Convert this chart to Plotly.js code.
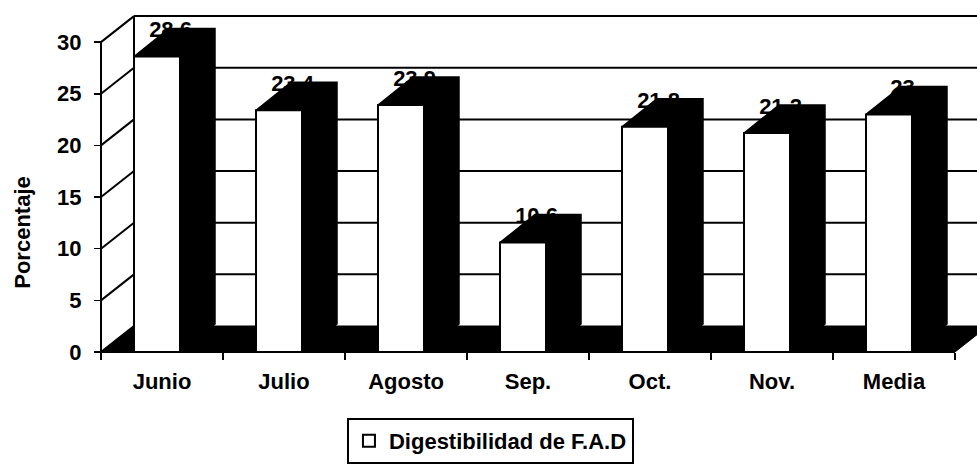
<!DOCTYPE html>
<html>
<head>
<meta charset="utf-8">
<script src="https://cdn.plot.ly/plotly-3.0.1.min.js"></script>
<style>html,body{margin:0;padding:0;background:#fff;}#chart{width:977px;height:465px;}</style>
</head>
<body>
<div id="chart"></div>
<script>
// ---- data ----
const categories = ['Junio', 'Julio', 'Agosto', 'Sep.', 'Oct.', 'Nov.', 'Media'];
const values = [28.6, 23.4, 23.9, 10.6, 21.8, 21.2, 23];
const yTickVals = [0, 5, 10, 15, 20, 25, 30];
const seriesName = 'Digestibilidad de F.A.D';
const yTitle = 'Porcentaje';

// ---- geometry / style ----
const W = 977, H = 465;
const PX = 122;      // px per category
const PY = 10.33;    // px per y unit
const X0 = 101;      // px of front left edge (category -0.5)
const Y0 = 352;      // px of y = 0 on the front plane
const WDX = 33 / PX, WDY = 26 / PY;   // wall depth offset
const BDX = 35 / PX, BDY = 28 / PY;   // bar depth offset
const BOFF = -28 / PX, BW = 46 / PX;  // front face offset / width
const YMAX = 30;
const n = categories.length;
const xLo = -0.5, xHi = n - 0.5;
const FONT = {family: 'Liberation Sans, Arial, sans-serif', size: 22, color: '#000', weight: 'bold'};

const idx = categories.map((_, i) => i);
const boundaries = [];
for (let i = 0; i <= n; i++) boundaries.push(i - 0.5);

// extrusion polygons (top + side faces) computed from data
const ex = [], ey = [];
values.forEach((v, i) => {
  const xl = i + BOFF, xr = i + BOFF + BW;
  ex.push(xl, xl + BDX, xr + BDX, xr + BDX, xr, xr, null);
  ey.push(v, v + BDY, v + BDY, BDY, 0, v, null);
});

const traces = [
  {
    type: 'bar', name: seriesName, x: idx, y: values,
    width: BW, offset: BOFF,
    marker: {color: '#fff', line: {color: '#000', width: 2}},
    hoverinfo: 'skip'
  },
  {
    type: 'scatter', mode: 'lines', x: ex, y: ey, fill: 'toself',
    fillcolor: '#000', line: {color: '#000', width: 1.5},
    showlegend: false, hoverinfo: 'skip'
  },
  {
    type: 'scatter', mode: 'text',
    x: idx.map(i => i + 0.07), y: values.map(v => v + 2.4),
    text: values.map(v => String(v)), textposition: 'middle center',
    textfont: FONT, showlegend: false, hoverinfo: 'skip', cliponaxis: false
  }
];

// walls, floor and front axis lines
const shapes = [];
const L = {color: '#000', width: 2};
// floor
shapes.push({type: 'path', layer: 'below', xref: 'x', yref: 'y',
  path: `M${xLo},0 L${xHi},0 L${xHi + WDX},${WDY} L${xLo + WDX},${WDY} Z`,
  fillcolor: '#000', line: {color: '#000', width: 1}});
// back wall gridlines + top
yTickVals.forEach(t => {
  if (t > 0) shapes.push({type: 'line', layer: 'below', xref: 'x', yref: 'y',
    x0: xLo + WDX, x1: xHi + 1, y0: t + WDY, y1: t + WDY, line: L});
  // left wall diagonals
  shapes.push({type: 'line', layer: 'below', xref: 'x', yref: 'y',
    x0: xLo, x1: xLo + WDX, y0: t, y1: t + WDY, line: L});
});
// back wall left edge
shapes.push({type: 'line', layer: 'below', xref: 'x', yref: 'y',
  x0: xLo + WDX, x1: xLo + WDX, y0: WDY, y1: YMAX + WDY, line: L});
// front axis lines
shapes.push({type: 'line', layer: 'above', xref: 'x', yref: 'y',
  x0: xLo, x1: xLo, y0: 0, y1: YMAX, line: L});
shapes.push({type: 'line', layer: 'above', xref: 'x', yref: 'y',
  x0: xLo, x1: xHi, y0: 0, y1: 0, line: L});

const layout = {
  width: W, height: H,
  margin: {l: 0, r: 0, t: 0, b: 0, pad: 0},
  paper_bgcolor: '#fff', plot_bgcolor: 'rgba(0,0,0,0)',
  font: FONT,
  showlegend: true,
  xaxis: {
    domain: [0, 1], range: [xLo - X0 / PX, xLo + (W - X0) / PX],
    anchor: 'free', position: 1 - Y0 / H,
    showgrid: false, zeroline: false, showline: false,
    tickmode: 'array', tickvals: idx, ticktext: categories,
    ticks: '', ticklabelstandoff: 14, tickfont: FONT,
    minor: {tickmode: 'array', tickvals: boundaries, ticks: 'outside',
            ticklen: 7, tickwidth: 1.5, tickcolor: '#000', showgrid: false},
    fixedrange: true
  },
  yaxis: {
    domain: [0, 1], range: [-(H - Y0) / PY, Y0 / PY],
    anchor: 'free', position: X0 / W,
    showgrid: false, zeroline: false, showline: false,
    tickmode: 'array', tickvals: yTickVals,
    ticks: 'outside', ticklen: 7, tickwidth: 1.5, tickcolor: '#000',
    ticklabelstandoff: 8, tickfont: FONT,
    title: {text: yTitle, font: FONT, standoff: 19},
    fixedrange: true
  },
  legend: {
    orientation: 'h', x: 0.502, xanchor: 'center', y: 1 - 441 / H, yanchor: 'middle',
    bordercolor: '#000', borderwidth: 2, bgcolor: '#fff', font: FONT
  },
  shapes: shapes
};

Plotly.newPlot('chart', traces, layout, {displayModeBar: false, staticPlot: true});
</script>
</body>
</html>
